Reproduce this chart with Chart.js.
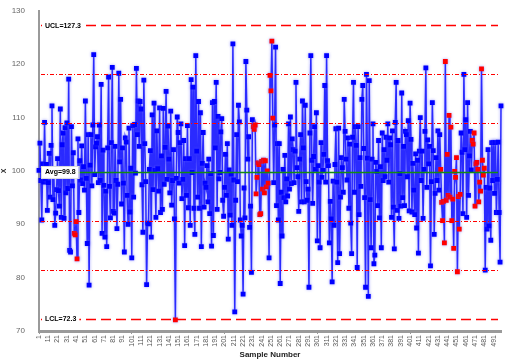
<!DOCTYPE html>
<html>
<head>
<meta charset="utf-8">
<script src="https://cdn.jsdelivr.net/npm/chart.js@4/dist/chart.umd.min.js"></script>
<style>
html,body{margin:0;padding:0;background:#fff;}
#wrap{width:509px;height:360px;}
</style>
</head>
<body>
<div id="wrap"><canvas id="c" width="509" height="360"></canvas></div>
<script>
// ---- data ----
const values = [
100.1,105.2,98.2,90.8,101.3,97.9,109.1,98.5,101.2,92.6,
97.8,103.3,95.1,104.8,112.2,94.6,99.7,89.8,92.1,96.5,
102.3,96.3,93.4,111.6,91.3,104.9,107.1,91.1,108.1,95.9,
109.0,96.7,117.2,85.1,84.8,108.3,97.2,103.4,88.3,88.0,
90.5,83.5,106.0,92.2,101.9,98.3,104.7,97.6,100.8,96.4,
113.1,98.6,86.4,106.8,78.6,101.1,106.8,97.2,108.6,121.8,
99.3,104.5,105.2,106.4,97.8,108.6,98.2,116.2,88.3,103.9,
97.3,87.6,96.2,85.8,104.3,117.6,97.1,91.2,105.3,119.4,
92.4,92.1,104.6,98.2,89.2,97.5,118.3,101.7,113.4,93.8,
104.3,97.7,84.8,106.2,105.4,95.4,90.0,108.0,92.3,100.5,
83.7,108.5,95.1,108.7,99.6,119.2,106.8,113.1,104.6,113.0,
111.6,97.4,88.5,117.0,105.1,98.0,78.7,90.2,90.1,100.3,
103.8,87.6,110.5,96.5,112.7,100.1,91.3,107.5,100.4,96.2,
111.8,92.2,102.8,92.8,111.7,97.5,104.4,114.9,98.4,108.4,
102.2,95.9,111.2,93.6,98.2,104.0,91.0,72.1,98.6,110.1,
107.2,97.7,105.3,108.8,94.8,98.4,105.7,86.0,102.3,95.4,
108.5,93.1,102.3,89.8,117.1,99.7,115.7,93.0,88.1,121.6,
103.7,95.1,113.0,93.0,110.9,85.8,101.4,107.2,93.2,97.7,
96.9,101.0,94.2,102.2,92.0,99.5,85.9,112.8,87.9,113.0,
104.3,116.6,92.8,110.2,98.5,99.7,107.3,109.8,94.5,91.5,
96.9,103.1,95.4,105.1,87.2,100.2,91.7,99.4,89.8,123.8,
98.3,73.6,94.5,106.8,98.0,112.3,109.2,90.8,87.8,89.8,
76.9,96.8,91.2,120.5,111.4,102.2,106.4,89.4,93.4,81.0,
109.6,108.3,107.8,108.6,95.7,98.8,101.5,101.2,91.8,92.0,
101.8,96.6,102.0,95.9,101.9,97.0,100.0,97.7,83.7,117.9,
115.0,124.3,109.9,97.8,108.6,123.2,93.5,105.1,90.8,105.1,
78.9,96.0,87.8,100.3,95.0,102.9,94.2,98.5,95.3,108.8,
96.6,110.1,97.6,106.0,104.0,97.8,103.7,116.6,100.6,98.9,
92.4,102.2,106.8,94.2,113.1,104.3,94.2,112.3,98.0,94.5,
96.6,78.2,107.1,121.6,102.0,93.9,102.7,108.3,100.3,110.9,
86.9,101.0,97.9,85.6,105.3,98.8,100.1,103.1,116.0,97.9,
121.6,101.9,101.0,86.5,94.3,91.0,79.2,98.1,89.8,101.2,
107.9,97.9,82.8,108.0,84.5,95.1,102.5,100.6,96.0,113.4,
107.4,102.2,98.3,106.2,93.0,105.0,90.2,84.5,106.3,116.6,
96.0,108.3,104.8,81.9,108.3,91.8,102.5,97.1,113.4,116.0,
104.2,95.0,78.2,118.1,102.4,76.5,116.9,94.6,85.6,102.2,
108.8,82.6,84.2,101.6,99.9,93.5,105.7,91.2,100.8,85.6,
107.1,98.2,104.0,98.9,106.3,102.0,108.8,97.9,106.2,104.9,
91.3,107.5,93.2,85.4,109.1,116.6,92.6,105.7,91.1,99.5,
93.4,114.6,95.0,104.6,93.5,107.4,106.8,98.9,109.4,92.5,
112.7,105.9,92.3,101.4,96.4,91.8,103.2,89.3,102.0,84.6,
103.7,110.0,98.2,103.7,91.1,100.3,107.4,119.3,96.9,105.8,
101.3,104.6,82.2,98.0,112.8,103.8,88.1,95.8,102.5,98.2,
107.5,96.4,106.8,100.3,94.1,90.7,94.3,86.5,120.5,94.5,
103.1,95.4,110.4,95.1,108.2,90.7,94.7,85.5,99.9,98.8,
102.5,81.1,95.2,89.1,95.6,107.1,103.5,92.0,118.1,104.0,
109.6,91.3,112.8,95.4,102.8,107.4,100.2,105.7,105.0,107.1,
93.4,101.3,101.6,100.3,94.2,97.9,96.2,119.1,102.0,99.2,
100.5,81.4,96.9,89.1,104.0,89.7,96.8,87.0,105.3,98.2,
105.3,95.8,105.3,92.2,98.4,105.4,92.2,82.9,112.2
];
// sample numbers flagged red
const redSamples = [39,40,41,42,148,
  232,233,234,235,236,237,238,239,240,241,242,243,244,245,246,247,248,250,251,252,253,
  434,435,436,437,438,439,440,441,442,443,444,445,446,447,448,449,450,451,452,453,454,455,
  468,469,470,471,472,473,474,475,476,477,478,479,480,481];
const sampleNumbers = values.map((v, i) => i + 1);
const yTicks = [70, 80, 90, 100, 110, 120, 130];
const limitNames = ['UCL', '+2s', '+1s', 'Avg', '-1s', '-2s', 'LCL'];
const limitValues = [127.3, 118.1, 109.0, 99.8, 90.6, 81.5, 72.3];

const redSet = new Set(redSamples);
const pointColors = sampleNumbers.map(n => redSet.has(n) ? '#ff0000' : '#0000ff');

const glowPlugin = {
  id: 'glow',
  beforeDatasetDraw(chart) {
    const ctx = chart.ctx;
    ctx.save();
    ctx.shadowColor = 'rgba(90,90,255,0.6)';
    ctx.shadowBlur = 3;
  },
  afterDatasetDraw(chart) { chart.ctx.restore(); }
};

const limitPlugin = {
  id: 'limits',
  afterDatasetsDraw(chart) {
    const {ctx, chartArea: a, scales: {y}} = chart;
    ctx.save();
    limitValues.forEach((v, k) => {
      const py = Math.round(y.getPixelForValue(v)) + 0.5;
      const name = limitNames[k];
      ctx.beginPath();
      if (name === 'Avg') {
        ctx.strokeStyle = '#138a13'; ctx.lineWidth = 1.5; ctx.setLineDash([]);
      } else if (name === 'UCL' || name === 'LCL') {
        ctx.strokeStyle = '#ff0000'; ctx.lineWidth = 1.5; ctx.setLineDash([10, 5]);
      } else {
        ctx.strokeStyle = '#ff0000'; ctx.lineWidth = 1; ctx.setLineDash([4, 2, 1, 2]);
      }
      ctx.moveTo(a.left + 2, py); ctx.lineTo(a.right - 3, py); ctx.stroke();
    });
    ctx.setLineDash([]);
    ctx.font = 'bold 7px "Liberation Sans", Arial, sans-serif';
    ctx.textBaseline = 'middle';
    limitValues.forEach((v, k) => {
      const name = limitNames[k];
      if (!(name === 'UCL' || name === 'LCL' || name === 'Avg')) return;
      const py = y.getPixelForValue(v);
      const txt = name + '=' + v.toFixed(1);
      const w = ctx.measureText(txt).width;
      const x0 = a.left + 6;
      ctx.fillStyle = '#ffffff';
      ctx.fillRect(x0 - 3, py - 5, w + 6, 11);
      if (name === 'Avg') {
        ctx.strokeStyle = '#dddddd'; ctx.lineWidth = 1;
        ctx.strokeRect(x0 - 3.5, py - 5.5, w + 7, 12);
      }
      ctx.fillStyle = '#000';
      ctx.fillText(txt, x0, py + 0.5);
    });
    ctx.restore();
  }
};

new Chart(document.getElementById('c'), {
  type: 'line',
  data: {
    labels: sampleNumbers,
    datasets: [{
      data: values,
      borderColor: '#2a2aff',
      borderWidth: 1.5,
      pointStyle: 'rect',
      pointRadius: 3.4,
      pointBorderWidth: 0,
      pointBackgroundColor: pointColors,
      pointBorderColor: pointColors,
      tension: 0
    }]
  },
  options: {
    responsive: false,
    animation: false,
    events: [],
    layout: { padding: { top: 6, right: 8, left: 0, bottom: 0 } },
    plugins: { legend: { display: false }, tooltip: { enabled: false } },
    scales: {
      x: {
        offset: false,
        afterFit: s => { s.height = 29; },
        border: { display: true, color: '#9a9a9a', width: 3 },
        grid: {
          drawOnChartArea: false, drawTicks: true, tickLength: 3,
          color: c => (c.index % 10 === 0 ? '#9a9a9a' : 'rgba(0,0,0,0)')
        },
        ticks: {
          autoSkip: false, maxRotation: 90, minRotation: 90, padding: 1,
          color: '#555', font: { size: 7, family: '"Liberation Sans", Arial, sans-serif' },
          callback: function (val, idx) { return idx % 10 === 0 ? String(sampleNumbers[idx]) : null; }
        },
        title: {
          display: true, text: 'Sample Number', color: '#222', padding: 0,
          font: { size: 8, weight: 'bold', family: '"Liberation Sans", Arial, sans-serif' }
        }
      },
      y: {
        min: yTicks[0], max: yTicks[yTicks.length - 1],
        afterFit: s => { s.width = 39; },
        afterBuildTicks: s => { s.ticks = yTicks.map(v => ({ value: v })); },
        border: { display: true, color: '#9a9a9a', width: 2 },
        grid: { display: false },
        ticks: {
          color: '#666', padding: 6,
          font: { size: 8, family: '"Liberation Sans", Arial, sans-serif' }
        },
        title: {
          display: true, text: 'X', color: '#222', padding: 0,
          font: { size: 7, weight: 'bold', family: '"Liberation Sans", Arial, sans-serif' }
        }
      }
    }
  },
  plugins: [glowPlugin, limitPlugin]
});
</script>
</body>
</html>
